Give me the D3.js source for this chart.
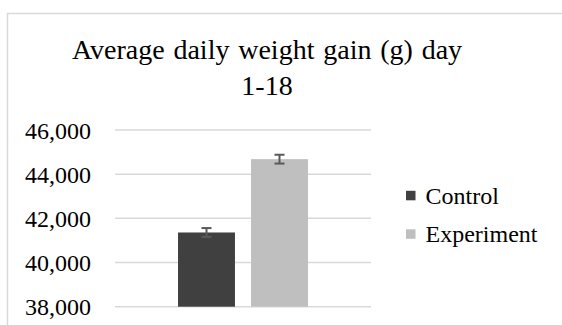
<!DOCTYPE html>
<html>
<head>
<meta charset="utf-8">
<script src="https://cdn.jsdelivr.net/npm/d3@7"></script>
<style>
  html, body { margin: 0; padding: 0; background: #fff; }
  svg { display: block; }
</style>
</head>
<body>
<svg id="chart" width="562" height="325"></svg>
<script>
const titleLines = ["Average daily weight gain (g) day", "1-18"];
const categories = ["Day 1-18"];
const seriesNames = ["Control", "Experiment"];
const seriesValues = [41360, 44680];
const seriesErrors = [200, 200];
const seriesColors = ["#404040", "#bfbfbf"];
const yTicks = [38000, 40000, 42000, 44000, 46000];

const FONT = "'Liberation Serif', 'Times New Roman', Times, 'DejaVu Serif', serif";
const svg = d3.select("#chart").style("font-family", FONT);
const W = 562, H = 325;

// chart frame
svg.append("rect")
  .attr("x", 7.5).attr("y", 13.5)
  .attr("width", W + 20).attr("height", H + 20)
  .attr("fill", "#fff").attr("stroke", "#d9d9d9").attr("stroke-width", 1.5);

// title
const title = svg.append("text")
  .attr("text-anchor", "middle")
  .style("font-family", FONT)
  .style("word-spacing", "1.8px")
  .style("font-size", "28px").attr("fill", "#000");
titleLines.forEach((t, i) => {
  title.append("tspan").attr("x", 267).attr("y", 59 + i * 36).text(t);
});

const plot = { left: 115, right: 371, top: 130, bottom: 306.7 };

const y = d3.scaleLinear().domain([38000, 46000]).range([plot.bottom, plot.top]);
const x0 = d3.scaleBand().domain(categories).range([plot.left, plot.right]).paddingInner(0).paddingOuter(0.485);
const x1 = d3.scaleBand().domain(seriesNames).range([0, x0.bandwidth()]).paddingInner(0.22).paddingOuter(0);

// gridlines
svg.append("g")
  .selectAll("line").data(yTicks).join("line")
  .attr("x1", plot.left).attr("x2", plot.right)
  .attr("y1", d => y(d)).attr("y2", d => y(d))
  .attr("stroke", "#d9d9d9").attr("stroke-width", 1.5);

// y axis labels
const fmt = d3.format(",");
const yAxis = d3.axisLeft(y).tickValues(yTicks).tickFormat(fmt).tickSize(0).tickPadding(0);
const ga = svg.append("g").attr("transform", `translate(91,0)`).call(yAxis);
ga.attr("font-family", null).attr("font-size", null);
ga.select(".domain").remove();
ga.selectAll("text")
  .style("font-family", FONT)
  .style("font-size", "24px")
  .attr("fill", "#000")
  .attr("dy", "0.34em");

// bars
const data = seriesNames.map((s, i) => ({ cat: categories[0], s, v: seriesValues[i], e: seriesErrors[i], c: seriesColors[i] }));
const g = svg.append("g");
g.selectAll("rect").data(data).join("rect")
  .attr("x", d => x0(d.cat) + x1(d.s))
  .attr("width", x1.bandwidth())
  .attr("y", d => y(d.v))
  .attr("height", d => y(38000) - y(d.v))
  .attr("fill", d => d.c);

// error bars
const cx = d => x0(d.cat) + x1(d.s) + x1.bandwidth() / 2;
const eb = g.selectAll("g.err").data(data).join("g").attr("class", "err")
  .attr("stroke", "#595959").attr("stroke-width", 2);
eb.append("line")
  .attr("x1", cx).attr("x2", cx)
  .attr("y1", d => y(d.v + d.e)).attr("y2", d => y(d.v - d.e));
eb.selectAll("line.cap").data(d => [[d, d.v + d.e], [d, d.v - d.e]]).join("line").attr("class", "cap")
  .attr("x1", ([d]) => cx(d) - 5)
  .attr("x2", ([d]) => cx(d) + 5)
  .attr("y1", ([, v]) => y(v)).attr("y2", ([, v]) => y(v));

// legend
const leg = svg.append("g").attr("transform", "translate(406,0)");
const legY = d3.scalePoint().domain(seriesNames).range([195.5, 234]);
const li = leg.selectAll("g").data(data).join("g")
  .attr("transform", d => `translate(0,${legY(d.s)})`);
li.append("rect").attr("x", 0).attr("y", -4.7).attr("width", 9.5).attr("height", 9.5)
  .attr("fill", d => d.c);
li.append("text").attr("x", 19.5).attr("dy", "0.34em")
  .style("font-family", FONT)
  .style("font-size", "24px").attr("fill", "#000").text(d => d.s);
</script>
</body>
</html>
